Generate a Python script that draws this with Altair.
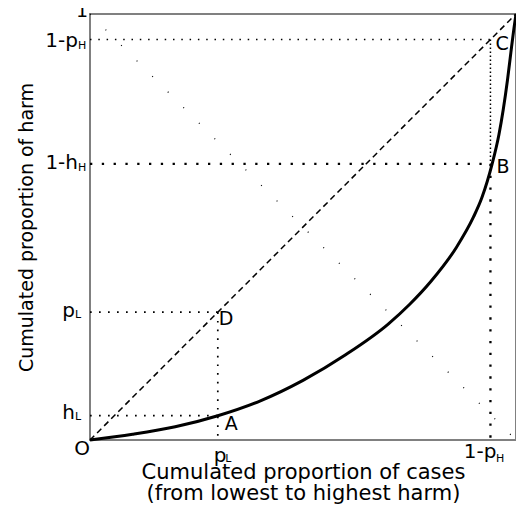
import altair as alt
import pandas as pd

FONT = "DejaVu Sans"

# key proportions
p_L = 0.30
h_L = 0.057
one_minus_p_H = 0.94
one_minus_h_H = 0.648

# Lorenz-type curve
curve_x = [0, 0.1, 0.2, 0.3, 0.4, 0.5, 0.6, 0.7, 0.75, 0.8, 0.86, 0.9, 0.92, 0.944, 0.96, 0.97, 0.98, 0.988, 0.995, 1.0]
curve_y = [0, 0.0135, 0.031, 0.057, 0.092, 0.14, 0.20, 0.272, 0.318, 0.372, 0.452, 0.523, 0.569, 0.648, 0.717, 0.775, 0.845, 0.91, 0.965, 1.0]

x_title = ["Cumulated proportion of cases", "(from lowest to highest harm)"]
y_title = "Cumulated proportion of harm"

xs = alt.Scale(domain=[0, 1], nice=False, zero=False)
ys = alt.Scale(domain=[0, 1], nice=False, zero=False)

AX = alt.Axis(title=x_title, labels=False, ticks=False, domain=False, grid=False,
              titleFont=FONT, titleFontSize=21, titleFontWeight="normal", titleColor="black",
              titleLineHeight=21, titlePadding=21)
AY = alt.Axis(title=y_title, labels=False, ticks=False, domain=False, grid=False,
              titleFont=FONT, titleFontSize=19, titleFontWeight="normal", titleColor="black",
              titlePadding=54)


def enc(chart):
    return chart.encode(
        x=alt.X("x:Q", scale=xs, axis=AX),
        y=alt.Y("y:Q", scale=ys, axis=AY),
    )


curve_df = pd.DataFrame({"x": curve_x, "y": curve_y})
curve = enc(alt.Chart(curve_df).mark_line(color="black", strokeWidth=3, interpolate="monotone"))


def seg(x1, y1, x2, y2, dash, width):
    df = pd.DataFrame({"x": [x1], "y": [y1], "x2": [x2], "y2": [y2]})
    return enc(alt.Chart(df).mark_rule(color="black", strokeDash=dash, strokeWidth=width)).encode(
        x2="x2:Q", y2="y2:Q")


def label(xv, yv, txt, size, align, dx, dy):
    df = pd.DataFrame({"x": [xv], "y": [yv], "t": [txt]})
    return enc(alt.Chart(df).mark_text(
        align=align, baseline="alphabetic", dx=dx, dy=dy, fontSize=size, font=FONT, color="black"
    )).encode(text="t:N")


layers = [
    # diagonal and anti-diagonal
    seg(0, 0, 1, 1, [6, 4], 1.5),
    seg(0, 1, 1, 0, [1, 21], 1.2),
    # guide lines
    seg(0, one_minus_p_H, one_minus_p_H, one_minus_p_H, [1.5, 6.8], 1.5),
    seg(one_minus_p_H, one_minus_p_H, one_minus_p_H, one_minus_h_H, [1.5, 2.5], 1.5),
    seg(0, one_minus_h_H, one_minus_p_H, one_minus_h_H, [2.3, 9.5], 2.3),
    seg(one_minus_p_H, one_minus_h_H, one_minus_p_H, 0, [2.3, 9.5], 2.3),
    seg(0, p_L, p_L, p_L, [1.7, 7.3], 1.7),
    seg(p_L, p_L, p_L, 0, [1.7, 7.0], 1.7),
    seg(0, h_L, p_L, h_L, [1.7, 7.3], 1.7),
    curve,
    # y-axis labels
    label(0, 1, "1", 19, "right", -2, 3),
    label(0, one_minus_p_H, "1-p", 20, "right", -12, 7),
    label(0, one_minus_p_H, "H", 11, "left", -12, 9),
    label(0, one_minus_h_H, "1-h", 20, "right", -12, 5),
    label(0, one_minus_h_H, "H", 11, "left", -12, 7),
    label(0, p_L, "p", 20, "right", -15, 5),
    label(0, p_L, "L", 11, "left", -15, 6),
    label(0, h_L, "h", 20, "right", -15, 3),
    label(0, h_L, "L", 11, "left", -15, 4),
    label(0, 0, "O", 20, "right", 0, 15),
    # x-axis labels
    label(p_L, 0, "p", 20, "left", -4, 22),
    label(p_L, 0, "L", 11, "left", 7.5, 22),
    label(one_minus_p_H, 0, "1-p", 20, "right", 6, 17.5),
    label(one_minus_p_H, 0, "H", 11, "left", 5.5, 21.5),
    label(1, 0, "1", 20, "left", 2, 17.5),
    # point labels
    label(p_L, h_L, "A", 19, "left", 7, 14),
    label(one_minus_p_H, one_minus_h_H, "B", 19, "left", 6, 9),
    label(one_minus_p_H, one_minus_p_H, "C", 19, "left", 5, 10.5),
    label(p_L, p_L, "D", 19, "left", 1, 13),
]

chart = alt.layer(*layers).properties(
    width=426, height=426,
    padding={"left": 82, "top": 6, "right": 0, "bottom": 72},
    autosize=alt.AutoSizeParams(type="none"),
).configure_view(stroke="#808080", strokeWidth=2)

chart.save("out.html", embed_options={"renderer": "svg", "actions": False})
